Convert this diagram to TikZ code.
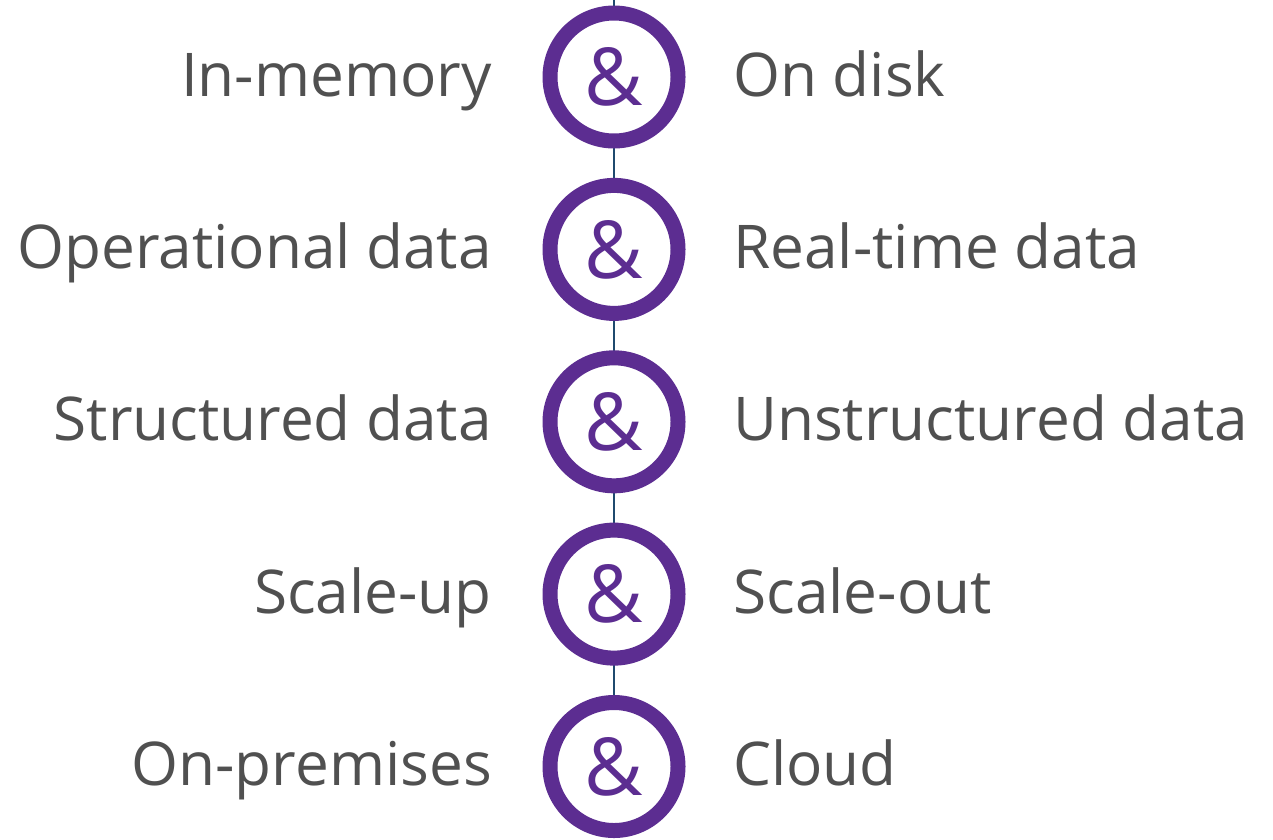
\documentclass[tikz,border=0pt]{standalone}
\usepackage{fontspec}
\setmainfont{Open Sans}
\definecolor{andpurple}{HTML}{5C2D91}
\definecolor{labelgray}{HTML}{505050}
\definecolor{linenavy}{HTML}{1F4A6E}
\begin{document}
\begin{tikzpicture}[x=1pt,y=-1pt,
  ring/.style={circle,draw=andpurple,line width=15pt,fill=white,minimum size=128pt,inner sep=0pt,
    font=\fontsize{80}{90}\selectfont,text=andpurple},
  lefttext/.style={anchor=base east,inner sep=0pt,text=labelgray,font=\fontsize{60.3}{70}\selectfont},
  righttext/.style={anchor=base west,inner sep=0pt,text=labelgray,font=\fontsize{60.3}{70}\selectfont},
  spine/.style={draw=linenavy,line width=2pt}]
\useasboundingbox (0,0) rectangle (1273,839);
\coordinate (top) at (614,0);
\foreach \i/\cy in {1/77,2/249.4,3/421.8,4/594.1,5/766.5}{
  \coordinate (c\i) at (614,\cy);
}
\draw[spine] (top) -- (c5);
\foreach \i in {1,...,5}{
  \node[ring] (r\i) at (c\i) {\raisebox{-0.05em}{\&}};
}
\foreach \i/\l/\r in {1/In-memory/On disk,2/Operational data/Real-time data,3/Structured data/Unstructured data,4/Scale-up/Scale-out,5/On-premises/Cloud}{
  \node[lefttext] (L\i) at ([shift={(-122,19)}]c\i) {\l};
  \node[righttext] (R\i) at ([shift={(119,19)}]c\i) {\r};
}
\end{tikzpicture}
\end{document}
